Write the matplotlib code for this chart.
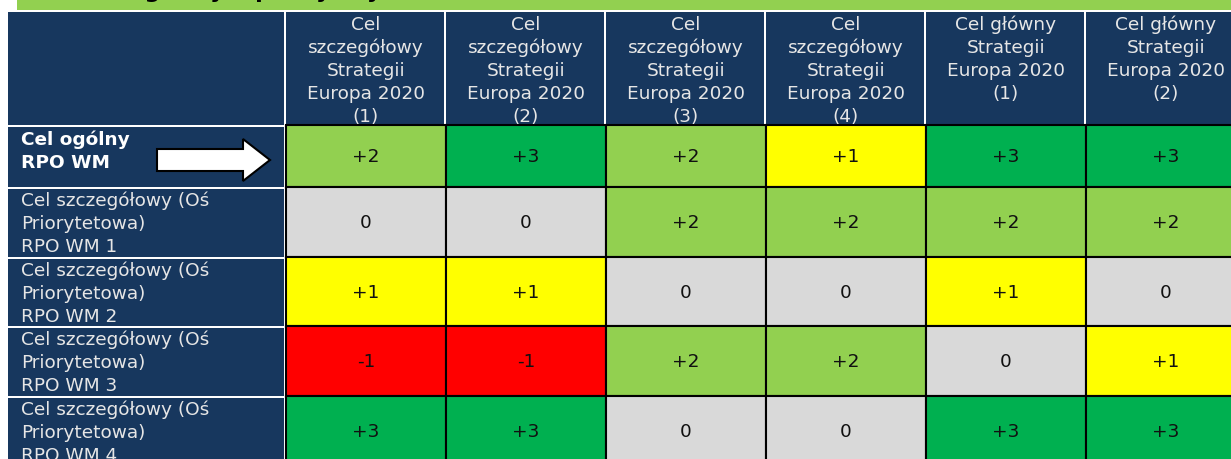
import matplotlib.pyplot as plt
from matplotlib.patches import Rectangle, Polygon

# dane tabeli
col_labels = [
    ["Cel", "szczegółowy", "Strategii", "Europa 2020", "(1)"],
    ["Cel", "szczegółowy", "Strategii", "Europa 2020", "(2)"],
    ["Cel", "szczegółowy", "Strategii", "Europa 2020", "(3)"],
    ["Cel", "szczegółowy", "Strategii", "Europa 2020", "(4)"],
    ["Cel główny", "Strategii", "Europa 2020", "(1)"],
    ["Cel główny", "Strategii", "Europa 2020", "(2)"],
]
row_labels = [
    ["Cel ogólny", "RPO WM"],
    ["Cel szczegółowy (Oś", "Priorytetowa)", "RPO WM 1"],
    ["Cel szczegółowy (Oś", "Priorytetowa)", "RPO WM 2"],
    ["Cel szczegółowy (Oś", "Priorytetowa)", "RPO WM 3"],
    ["Cel szczegółowy (Oś", "Priorytetowa)", "RPO WM 4"],
]
scores = [
    [2, 3, 2, 1, 3, 3],
    [0, 0, 2, 2, 2, 2],
    [1, 1, 0, 0, 1, 0],
    [-1, -1, 2, 2, 0, 1],
    [3, 3, 0, 0, 3, 3],
]
score_colors = {3: "#00B050", 2: "#92D050", 1: "#FFFF00", 0: "#D9D9D9", -1: "#FF0000"}
title = "Cel strategiczny a priorytety"

NAVY = "#17375E"
W, H = 1231, 459
FS = 13.3

fig = plt.figure(figsize=(W / 100, H / 100), dpi=100)
ax = fig.add_axes([0, 0, 1, 1])
ax.set_xlim(0, W)
ax.set_ylim(H, 0)
ax.axis("off")

# pasek tytułu (przycięty u góry)
ax.add_patch(Rectangle((17, 0), W - 17, 10, color="#92D050", lw=0))
ax.text(22, -2, title, fontsize=16, fontweight="bold", color="black",
        va="baseline", ha="left", clip_on=True)

# geometria
left_x0, left_x1 = 8, 286
col_w = 160
head_y0, head_y1 = 12, 125
row_edges = [125, 187, 257, 326, 396, 466]
gap = 2

# nagłówek
ax.add_patch(Rectangle((left_x0, head_y0), left_x1 - left_x0 - gap, head_y1 - head_y0,
                       color=NAVY, lw=0))
for j, lines in enumerate(col_labels):
    x0 = left_x1 + j * col_w
    ax.add_patch(Rectangle((x0, head_y0), col_w - gap, head_y1 - head_y0, color=NAVY, lw=0))
    for k, line in enumerate(lines):
        ax.text(x0 + col_w / 2, 25 + k * 23, line, fontsize=FS, color="#E6E6E6",
                ha="center", va="center")

# wiersze
for i, lines in enumerate(row_labels):
    y0, y1 = row_edges[i] + gap, row_edges[i + 1]
    ax.add_patch(Rectangle((left_x0, y0), left_x1 - left_x0 - gap, y1 - y0, color=NAVY, lw=0))
    if i == 0:
        for k, line in enumerate(lines):
            ax.text(21, 140 + k * 23, line, fontsize=FS, fontweight="bold", color="white",
                    ha="left", va="center")
        ax.add_patch(Polygon([(157, 149), (243, 149), (243, 139), (270, 160),
                              (243, 181), (243, 171), (157, 171)],
                             closed=True, facecolor="white", edgecolor="black", lw=1.5))
    else:
        for k, line in enumerate(lines):
            ax.text(21, y0 + 12 + k * 23, line, fontsize=FS, color="#E6E6E6",
                    ha="left", va="center")
    for j, v in enumerate(scores[i]):
        x0 = left_x1 + j * col_w
        ax.add_patch(Rectangle((x0, y0 - gap), col_w, y1 - y0 + gap,
                               facecolor=score_colors[v], edgecolor="black", lw=1.5))
        lab = f"+{v}" if v > 0 else str(v)
        ax.text(x0 + col_w / 2, (y0 + min(y1, 468)) / 2, lab, fontsize=FS, color="#111111",
                ha="center", va="center")

fig.savefig("out.png", dpi=100)
